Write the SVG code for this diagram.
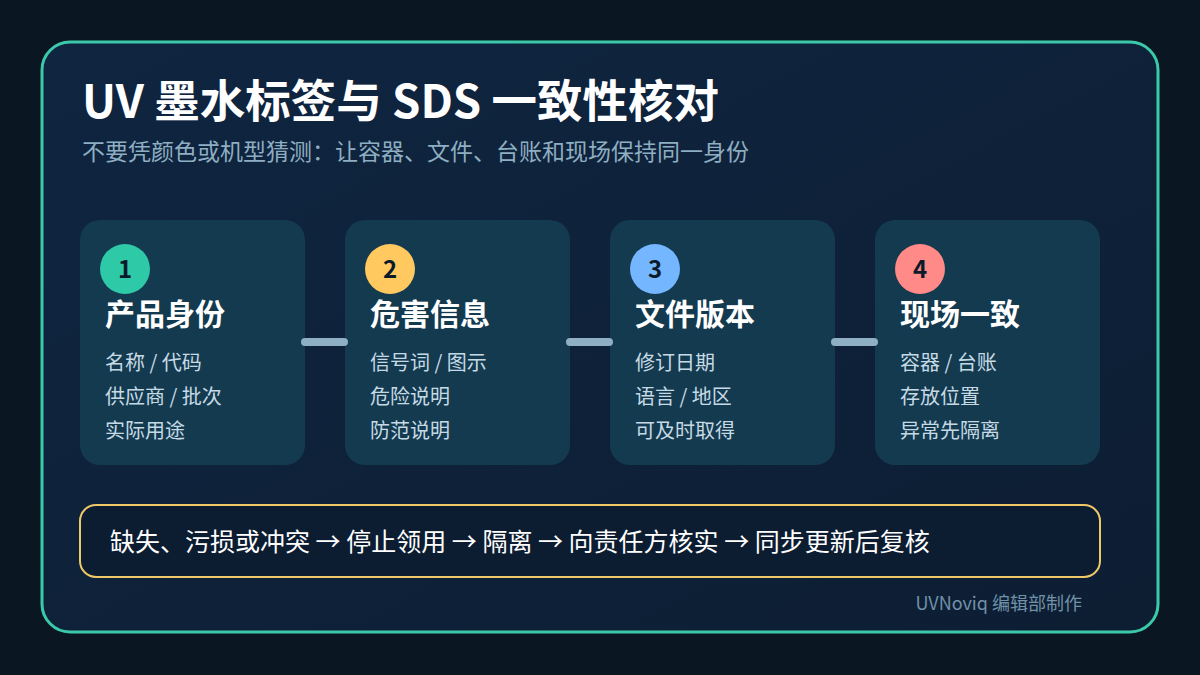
<svg xmlns="http://www.w3.org/2000/svg" width="1200" height="675" viewBox="0 0 1200 675">
<style>
.t{font-family:"Noto Sans CJK SC","Noto Sans",sans-serif}
.card{fill:#143a4f}
.num{font-family:"Noto Sans CJK SC","Noto Sans",sans-serif;font-size:24px;font-weight:700;fill:#0b1a2a;text-anchor:middle}
.ct{font-family:"Noto Sans CJK SC",sans-serif;font-size:30px;font-weight:700;fill:#ffffff}
.it{font-family:"Noto Sans CJK SC",sans-serif;font-size:20px;fill:#c6dae6}
.conn{stroke:#8fb0c4;stroke-width:8;stroke-linecap:round}
</style>
<defs>
<linearGradient id="bg" x1="0" y1="0" x2="1" y2="1">
<stop offset="0" stop-color="#0f2540"/>
<stop offset="1" stop-color="#0d1e33"/>
</linearGradient>
</defs>
<rect width="1200" height="675" fill="#0a1621"/>
<rect x="42" y="42" width="1116" height="590" rx="28" fill="url(#bg)" stroke="#3cc9aa" stroke-width="3"/>
<text class="t" x="82" y="118" font-size="45.5" font-weight="700" fill="#ffffff">UV 墨水标签与 SDS 一致性核对</text>
<text class="t" x="82" y="160" font-size="23" fill="#8eaec2">不要凭颜色或机型猜测：让容器、文件、台账和现场保持同一身份</text>
<g id="node1">
<rect class="card" x="80" y="220" width="225" height="245" rx="20"/>
<circle cx="125" cy="269" r="25" fill="#2ec9a7"/>
<text class="num" x="125" y="278">1</text>
<text class="ct" x="105" y="325">产品身份</text>
<text class="it" x="105" y="370">名称 / 代码</text>
<text class="it" x="105" y="404">供应商 / 批次</text>
<text class="it" x="105" y="438">实际用途</text>
</g>
<g id="node2">
<rect class="card" x="345" y="220" width="225" height="245" rx="20"/>
<circle cx="390" cy="269" r="25" fill="#ffc95f"/>
<text class="num" x="390" y="278">2</text>
<text class="ct" x="370" y="325">危害信息</text>
<text class="it" x="370" y="370">信号词 / 图示</text>
<text class="it" x="370" y="404">危险说明</text>
<text class="it" x="370" y="438">防范说明</text>
</g>
<g id="node3">
<rect class="card" x="610" y="220" width="225" height="245" rx="20"/>
<circle cx="655" cy="269" r="25" fill="#74b6ff"/>
<text class="num" x="655" y="278">3</text>
<text class="ct" x="635" y="325">文件版本</text>
<text class="it" x="635" y="370">修订日期</text>
<text class="it" x="635" y="404">语言 / 地区</text>
<text class="it" x="635" y="438">可及时取得</text>
</g>
<g id="node4">
<rect class="card" x="875" y="220" width="225" height="245" rx="20"/>
<circle cx="920" cy="269" r="25" fill="#ff8a87"/>
<text class="num" x="920" y="278">4</text>
<text class="ct" x="900" y="325">现场一致</text>
<text class="it" x="900" y="370">容器 / 台账</text>
<text class="it" x="900" y="404">存放位置</text>
<text class="it" x="900" y="438">异常先隔离</text>
</g>
<g id="connectors">
<line class="conn" x1="305" y1="342" x2="344" y2="342"/>
<line class="conn" x1="570" y1="342" x2="609" y2="342"/>
<line class="conn" x1="835" y1="342" x2="874" y2="342"/>
</g>
<g id="flow">
<rect x="80" y="505" width="1020" height="72" rx="16" fill="#0c1d32" stroke="#efc968" stroke-width="2"/>
<text class="t" x="110" y="551" font-size="25" fill="#ffffff">缺失、污损或冲突 → 停止领用 → 隔离 → 向责任方核实 → 同步更新后复核</text>
</g>
<text class="t" x="1082" y="610" font-size="18" fill="#7191a8" text-anchor="end">UVNoviq 编辑部制作</text>
</svg>
